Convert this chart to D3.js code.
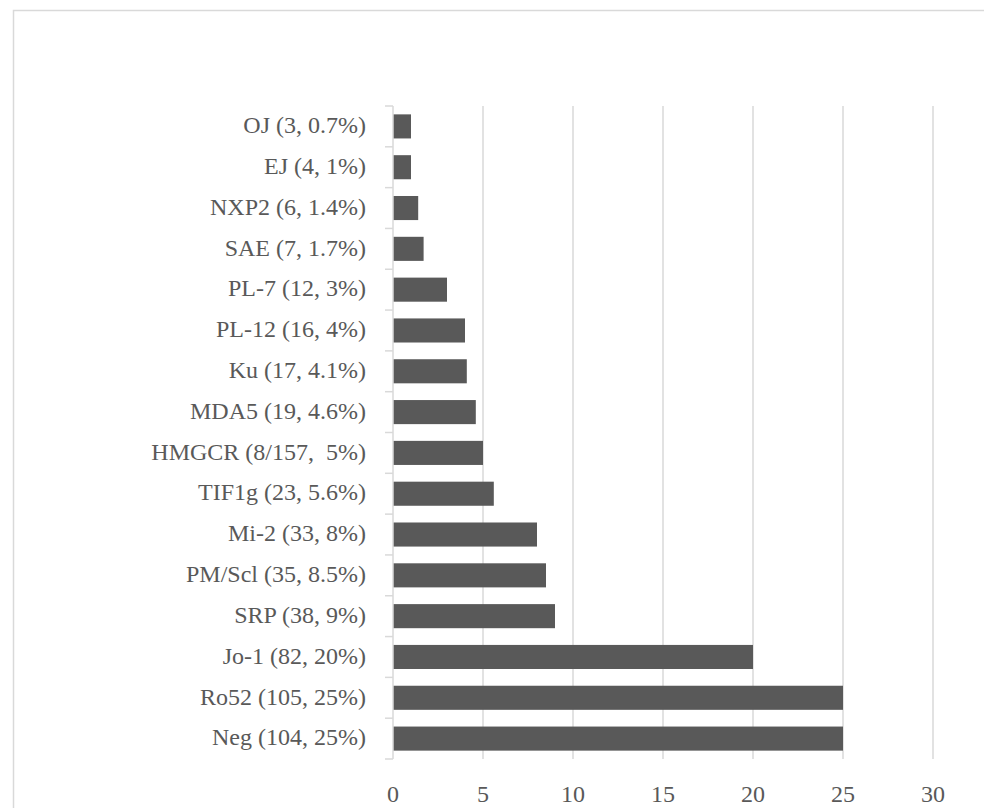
<!DOCTYPE html>
<html>
<head>
<meta charset="utf-8">
<script src="https://cdn.jsdelivr.net/npm/d3@7"></script>
<style>
  body { margin: 0; background: #fff; }
  text { font-family: "Liberation Serif", serif; fill: #595959; white-space: pre; }
</style>
</head>
<body>
<svg id="chart" width="984" height="808"></svg>
<script>
// categories top to bottom, as drawn
const labels = [
  "OJ (3, 0.7%)", "EJ (4, 1%)", "NXP2 (6, 1.4%)", "SAE (7, 1.7%)",
  "PL-7 (12, 3%)", "PL-12 (16, 4%)", "Ku (17, 4.1%)", "MDA5 (19, 4.6%)",
  "HMGCR (8/157,  5%)", "TIF1g (23, 5.6%)", "Mi-2 (33, 8%)", "PM/Scl (35, 8.5%)",
  "SRP (38, 9%)", "Jo-1 (82, 20%)", "Ro52 (105, 25%)", "Neg (104, 25%)"
];
const values = [1, 1, 1.4, 1.7, 3, 4, 4.1, 4.6, 5, 5.6, 8, 8.5, 9, 20, 25, 25];
const xTicks = [0, 5, 10, 15, 20, 25, 30];

const svg = d3.select("#chart");

// chart area border (runs off the right and bottom)
svg.append("rect")
  .attr("x", 13.5)
  .attr("y", 10.5)
  .attr("width", 1000)
  .attr("height", 900)
  .attr("fill", "none")
  .attr("stroke", "#d9d9d9")
  .attr("stroke-width", 1.5);

const x = d3.scaleLinear().domain([0, 30]).range([393, 933]);
const y = d3.scaleBand()
  .domain(labels)
  .range([106, 759])
  .paddingInner(0.41)
  .paddingOuter(0.205);

// vertical gridlines
svg.append("g")
  .selectAll("line")
  .data(xTicks.slice(1))
  .enter()
  .append("line")
  .attr("x1", d => x(d))
  .attr("x2", d => x(d))
  .attr("y1", 106)
  .attr("y2", 759)
  .attr("stroke", "#d9d9d9")
  .attr("stroke-width", 1.5);

// bars
svg.append("g")
  .selectAll("rect")
  .data(values)
  .enter()
  .append("rect")
  .attr("x", x(0))
  .attr("y", (d, i) => y(labels[i]))
  .attr("width", d => x(d) - x(0))
  .attr("height", y.bandwidth())
  .attr("fill", "#595959");

// category axis: line + ticks at band boundaries
svg.append("line")
  .attr("x1", x(0))
  .attr("x2", x(0))
  .attr("y1", 106)
  .attr("y2", 759)
  .attr("stroke", "#d9d9d9")
  .attr("stroke-width", 1.5);

const bounds = labels.map(l => y(l) - y.step() * y.paddingInner() / 2);
bounds.push(759);
svg.append("g")
  .selectAll("line")
  .data(bounds)
  .enter()
  .append("line")
  .attr("x1", x(0) - 8)
  .attr("x2", x(0))
  .attr("y1", d => d)
  .attr("y2", d => d)
  .attr("stroke", "#d9d9d9")
  .attr("stroke-width", 1.5);

svg.append("g")
  .selectAll("text")
  .data(labels)
  .enter()
  .append("text")
  .attr("x", 366)
  .attr("y", d => y(d) + y.bandwidth() / 2)
  .attr("dy", "0.28em")
  .attr("text-anchor", "end")
  .style("font-size", "24px")
  .text(d => d);

// value axis labels
svg.append("g")
  .selectAll("text")
  .data(xTicks)
  .enter()
  .append("text")
  .attr("x", d => x(d))
  .attr("y", 802)
  .attr("text-anchor", "middle")
  .style("font-size", "24px")
  .text(d => d);
</script>
</body>
</html>
